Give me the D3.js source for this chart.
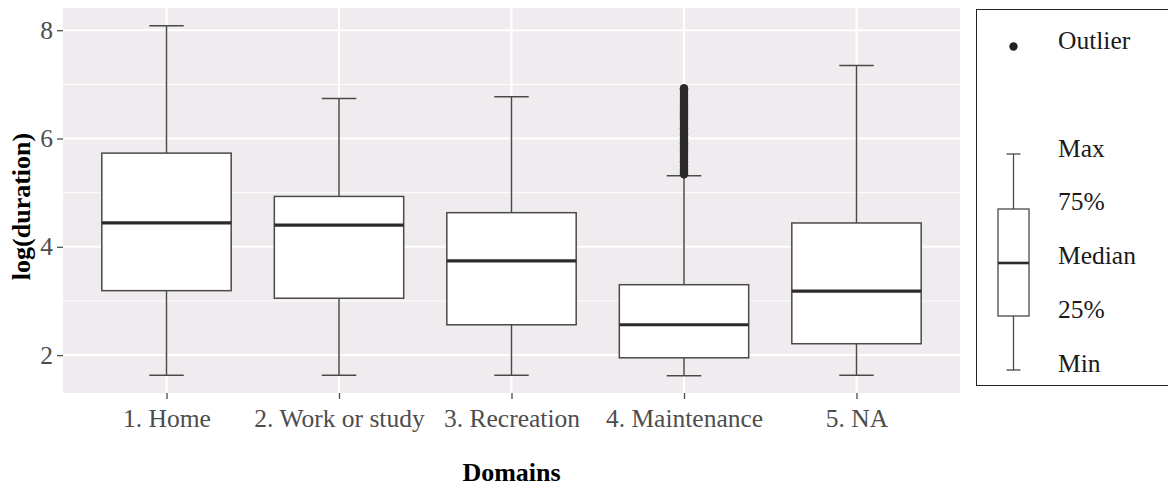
<!DOCTYPE html>
<html>
<head>
<meta charset="utf-8">
<title>log(duration) by domain</title>
<script src="https://d3js.org/d3.v7.min.js"></script>
<style>
body { margin: 0; background: #fff; }
svg text { font-family: "Liberation Serif", "Times New Roman", serif; }
.tick-label { fill: #4d4d4d; font-size: 25.5px; }
.axis-title { fill: #000; font-size: 26px; font-weight: bold; }
.legend-label { fill: #1a1a1a; font-size: 25.5px; }
</style>
</head>
<body>
<div id="chart"></div>
<script>
// data
var categories = ['1. Home', '2. Work or study', '3. Recreation', '4. Maintenance', '5. NA'];
var whiskerLow = [1.63, 1.63, 1.63, 1.62, 1.63];
var q1 = [3.19, 3.05, 2.56, 1.95, 2.21];
var median = [4.44, 4.40, 3.74, 2.56, 3.18];
var q3 = [5.73, 4.93, 4.63, 3.30, 4.44];
var whiskerHigh = [8.08, 6.74, 6.77, 5.31, 7.35];
// outliers of 4. Maintenance (dense column above the whisker)
var outliers4 = [5.34, 5.37, 5.41, 5.44, 5.48, 5.51, 5.55, 5.58, 5.62, 5.66,
    5.69, 5.73, 5.76, 5.80, 5.83, 5.87, 5.91, 5.94, 5.98, 6.01, 6.05, 6.09,
    6.12, 6.16, 6.19, 6.23, 6.27, 6.30, 6.34, 6.37, 6.41, 6.45, 6.48, 6.52,
    6.55, 6.59, 6.63, 6.66, 6.70, 6.73, 6.77, 6.81, 6.84, 6.88, 6.91, 6.93];
var yTicks = [2, 4, 6, 8];
var yMinor = [3, 5, 7];
var legendLabels = ['Max', '75%', 'Median', '25%', 'Min'];

var W = 1168, H = 485;
var panel = {left: 63, right: 960, top: 8, bottom: 393};
var boxStroke = '#4a4a4a';

var svg = d3.select('#chart').append('svg')
    .attr('width', W)
    .attr('height', H);

var x = d3.scalePoint()
    .domain(categories)
    .range([panel.left, panel.right])
    .padding(0.6);

var y = d3.scaleLinear()
    .domain([1.30, 8.41])
    .range([panel.bottom, panel.top]);

var step = x.step();
var boxW = step * 0.75;
var capW = step * 0.2;

//panel background + grid
svg.append('rect')
    .attr('x', panel.left)
    .attr('y', panel.top)
    .attr('width', panel.right - panel.left)
    .attr('height', panel.bottom - panel.top)
    .attr('fill', '#efebef');

svg.selectAll('line.minor').data(yMinor).enter()
    .append('line')
    .attr('class', 'minor')
    .attr('x1', panel.left).attr('x2', panel.right)
    .attr('y1', function(d){ return y(d); })
    .attr('y2', function(d){ return y(d); })
    .attr('stroke', '#fff')
    .attr('stroke-width', 1);

svg.selectAll('line.major').data(yTicks).enter()
    .append('line')
    .attr('class', 'major')
    .attr('x1', panel.left).attr('x2', panel.right)
    .attr('y1', function(d){ return y(d); })
    .attr('y2', function(d){ return y(d); })
    .attr('stroke', '#fff')
    .attr('stroke-width', 2);

svg.selectAll('line.vmajor').data(categories).enter()
    .append('line')
    .attr('class', 'vmajor')
    .attr('x1', function(d){ return x(d); })
    .attr('x2', function(d){ return x(d); })
    .attr('y1', panel.top).attr('y2', panel.bottom)
    .attr('stroke', '#fff')
    .attr('stroke-width', 2);

//axes
var yAxis = svg.append('g')
    .attr('transform', 'translate(' + panel.left + ',0)')
    .call(d3.axisLeft(y).tickValues(yTicks).tickSize(6).tickPadding(4));

var xAxis = svg.append('g')
    .attr('transform', 'translate(0,' + panel.bottom + ')')
    .call(d3.axisBottom(x).tickSize(6).tickPadding(10));

[yAxis, xAxis].forEach(function(a){
    a.attr('font-size', null).attr('font-family', null);
    a.select('.domain').remove();
    a.selectAll('.tick line').attr('stroke', '#4d4d4d').attr('stroke-width', 1.3);
    a.selectAll('.tick text')
        .attr('class', 'tick-label')
        .attr('fill', null);
});

//boxes
var stats = categories.map(function(c, i){
    return {cat: c, lo: whiskerLow[i], q1: q1[i], med: median[i], q3: q3[i], hi: whiskerHigh[i]};
});

var box = svg.selectAll('g.box').data(stats).enter()
    .append('g')
    .attr('class', 'box');

//whisker lines
box.append('line')
    .attr('x1', function(d){ return x(d.cat); })
    .attr('x2', function(d){ return x(d.cat); })
    .attr('y1', function(d){ return y(d.hi); })
    .attr('y2', function(d){ return y(d.q3); })
    .attr('stroke', boxStroke).attr('stroke-width', 1.5);
box.append('line')
    .attr('x1', function(d){ return x(d.cat); })
    .attr('x2', function(d){ return x(d.cat); })
    .attr('y1', function(d){ return y(d.q1); })
    .attr('y2', function(d){ return y(d.lo); })
    .attr('stroke', boxStroke).attr('stroke-width', 1.5);

//caps
['hi', 'lo'].forEach(function(k){
    box.append('line')
        .attr('x1', function(d){ return x(d.cat) - capW / 2; })
        .attr('x2', function(d){ return x(d.cat) + capW / 2; })
        .attr('y1', function(d){ return y(d[k]); })
        .attr('y2', function(d){ return y(d[k]); })
        .attr('stroke', boxStroke).attr('stroke-width', 1.5);
});

box.append('rect')
    .attr('x', function(d){ return x(d.cat) - boxW / 2; })
    .attr('y', function(d){ return y(d.q3); })
    .attr('width', boxW)
    .attr('height', function(d){ return y(d.q1) - y(d.q3); })
    .attr('fill', '#fff')
    .attr('stroke', boxStroke)
    .attr('stroke-width', 1.5);

box.append('line')
    .attr('x1', function(d){ return x(d.cat) - boxW / 2; })
    .attr('x2', function(d){ return x(d.cat) + boxW / 2; })
    .attr('y1', function(d){ return y(d.med); })
    .attr('y2', function(d){ return y(d.med); })
    .attr('stroke', '#2b2b2b').attr('stroke-width', 3.2);

//outliers
svg.selectAll('circle.outlier').data(outliers4).enter()
    .append('circle')
    .attr('class', 'outlier')
    .attr('cx', x(categories[3]))
    .attr('cy', function(d){ return y(d); })
    .attr('r', 4.2)
    .attr('fill', '#2b2b2b');

//axis titles
svg.append('text')
    .attr('class', 'axis-title')
    .attr('x', (panel.left + panel.right) / 2)
    .attr('y', 472)
    .attr('text-anchor', 'middle')
    .attr('dominant-baseline', 'central')
    .text('Domains');

svg.append('text')
    .attr('class', 'axis-title')
    .attr('transform', 'translate(21,' + ((panel.top + panel.bottom) / 2 + 6) + ') rotate(-90)')
    .attr('text-anchor', 'middle')
    .attr('dominant-baseline', 'central')
    .text('log(duration)');

//legend
var lg = svg.append('g').attr('class', 'legend');
lg.append('rect')
    .attr('x', 976.5).attr('y', 9.5)
    .attr('width', 220).attr('height', 376)
    .attr('fill', '#fff')
    .attr('stroke', '#222')
    .attr('stroke-width', 1);

var lx = 1013.5;
lg.append('circle').attr('cx', lx).attr('cy', 46.5).attr('r', 4.2).attr('fill', '#222');
lg.append('text').attr('class', 'legend-label')
    .attr('x', 1058).attr('y', 40)
    .attr('dominant-baseline', 'central')
    .text('Outlier');

var gl = {hi: 154, q3: 209, med: 263, q1: 316, lo: 370};
lg.append('line').attr('x1', lx).attr('x2', lx).attr('y1', gl.hi).attr('y2', gl.lo)
    .attr('stroke', boxStroke).attr('stroke-width', 1.3);
[gl.hi, gl.lo].forEach(function(v){
    lg.append('line').attr('x1', lx - 7).attr('x2', lx + 7).attr('y1', v).attr('y2', v)
        .attr('stroke', boxStroke).attr('stroke-width', 1.3);
});
lg.append('rect').attr('x', 998).attr('y', gl.q3)
    .attr('width', 31).attr('height', gl.q1 - gl.q3)
    .attr('fill', '#fff').attr('stroke', boxStroke).attr('stroke-width', 1.3);
lg.append('line').attr('x1', 998).attr('x2', 1029).attr('y1', gl.med).attr('y2', gl.med)
    .attr('stroke', '#2b2b2b').attr('stroke-width', 2.6);

lg.selectAll('text.lbl').data(legendLabels).enter()
    .append('text')
    .attr('class', 'legend-label lbl')
    .attr('x', 1058)
    .attr('y', function(d, i){ return 148 + i * 53.8; })
    .attr('dominant-baseline', 'central')
    .text(function(d){ return d; });
</script>
</body>
</html>
